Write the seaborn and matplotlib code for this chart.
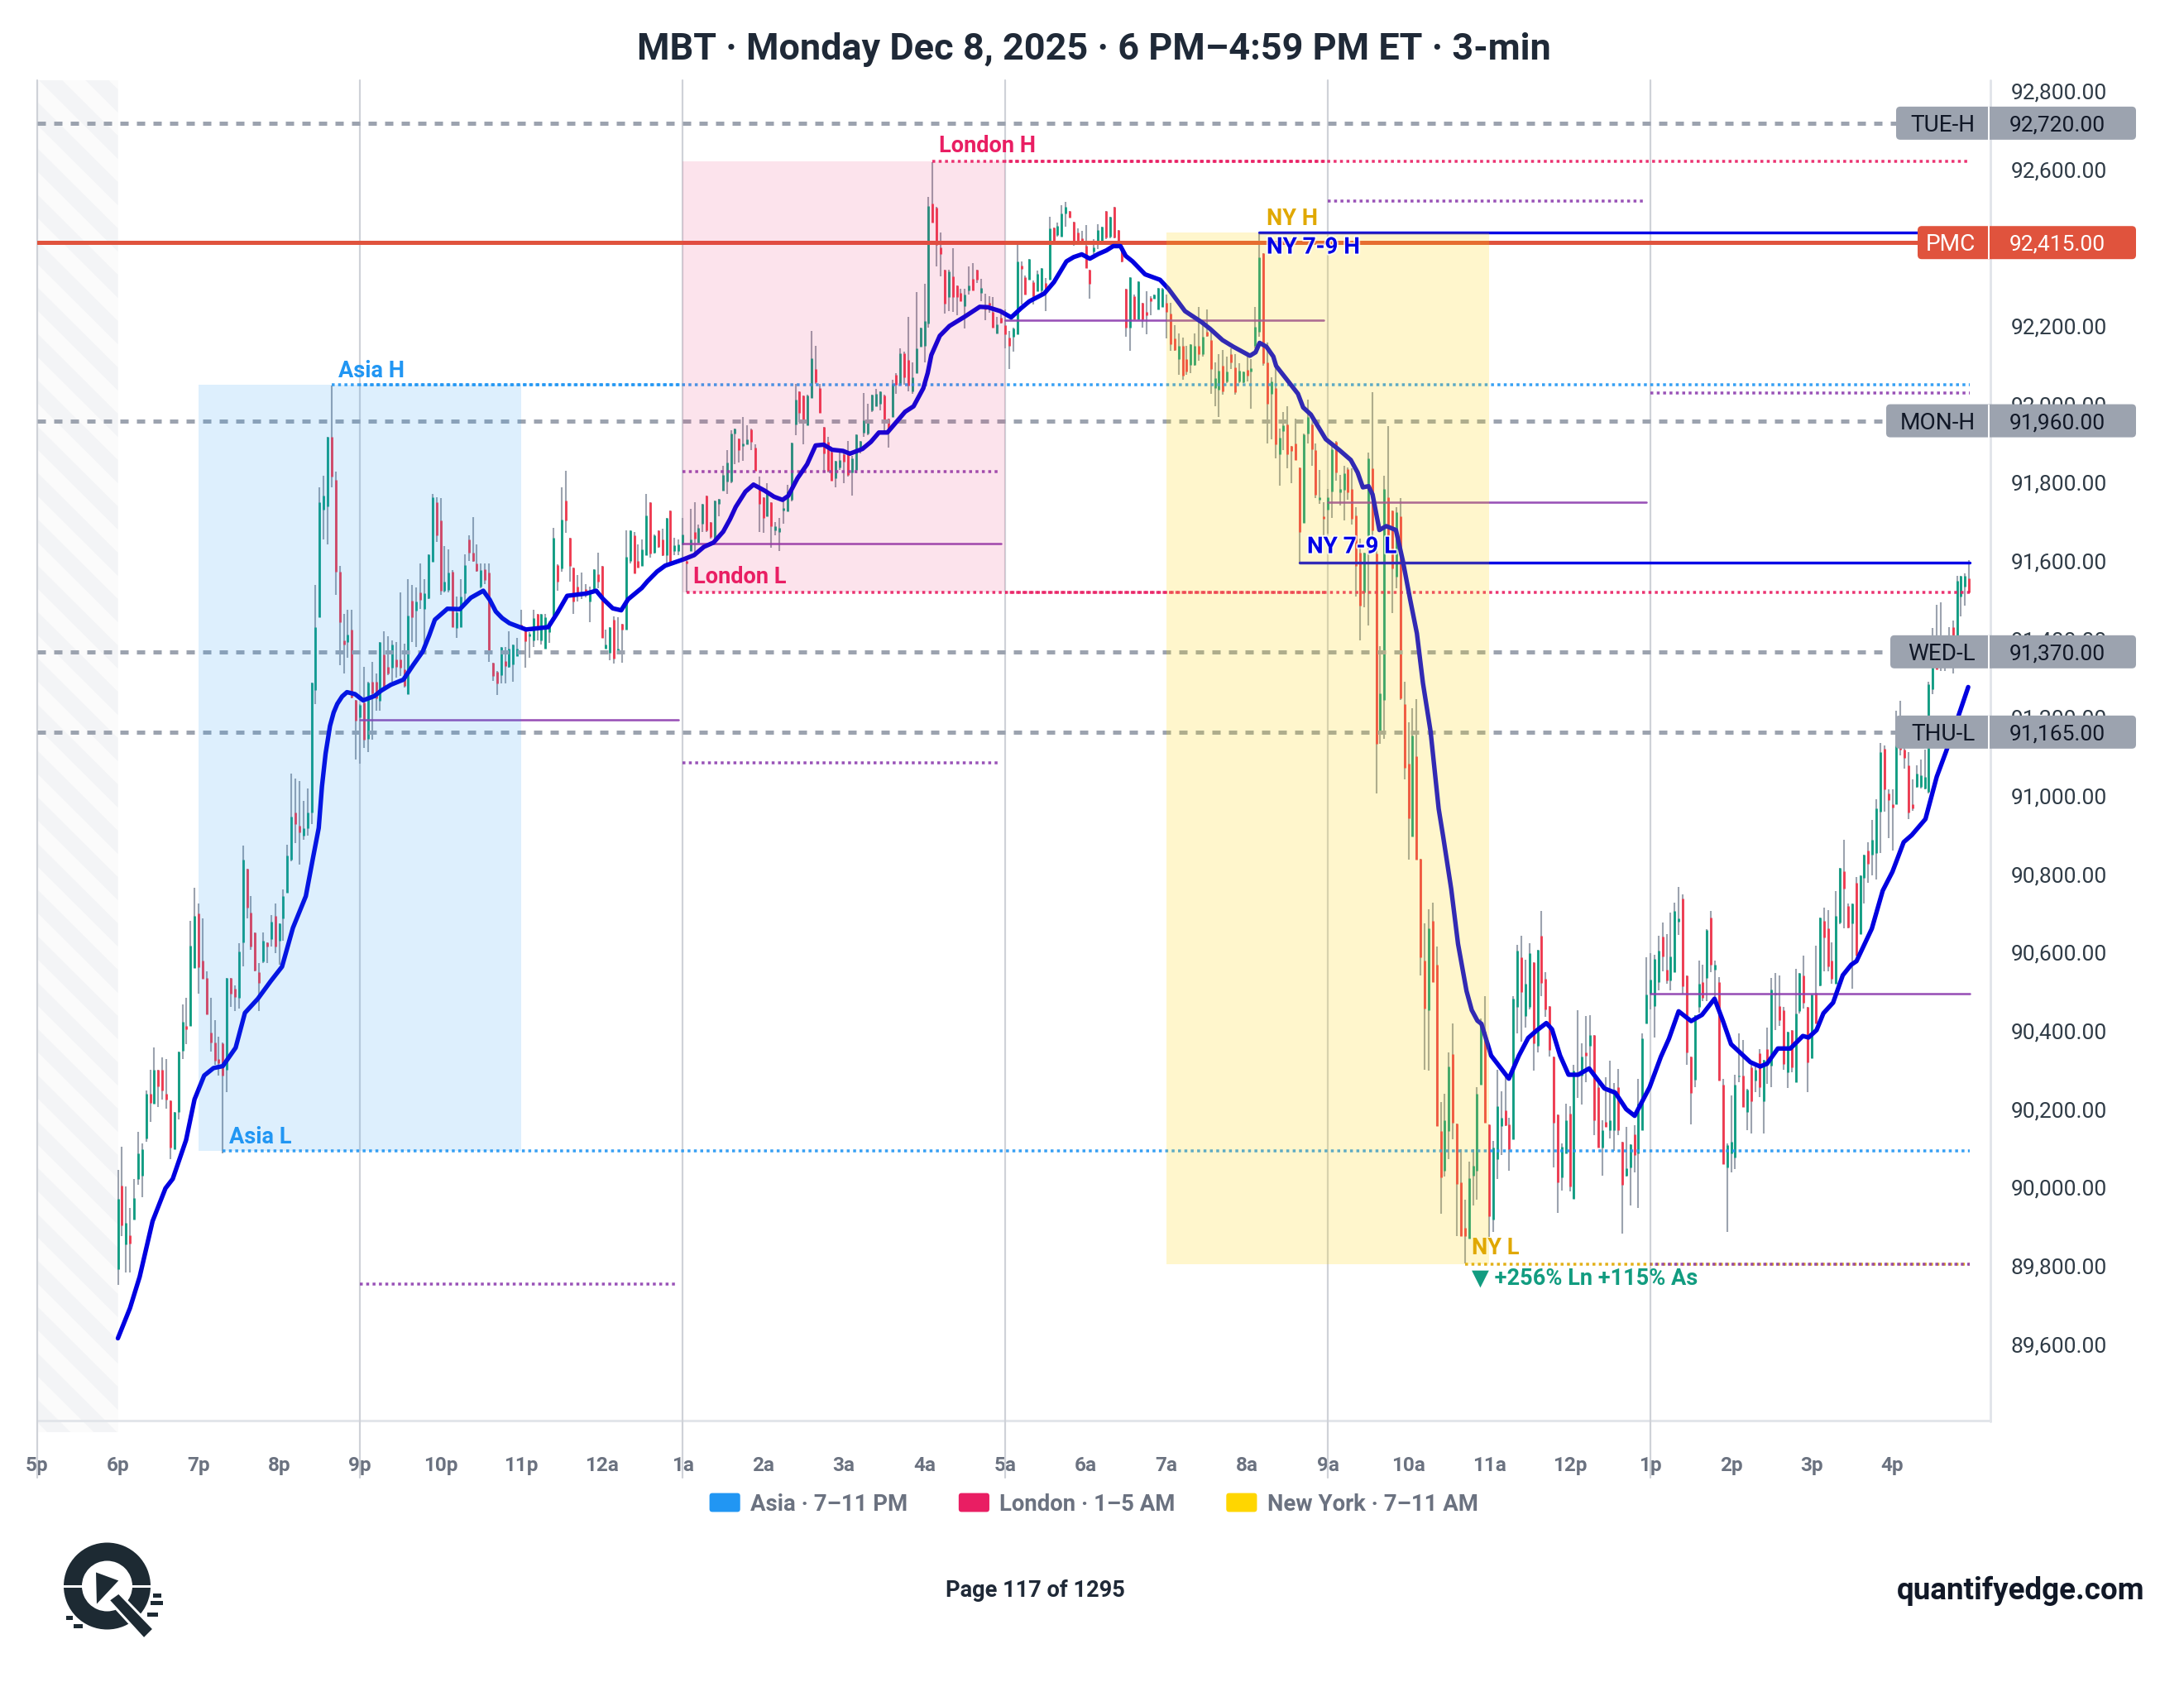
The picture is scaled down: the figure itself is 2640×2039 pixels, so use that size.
import matplotlib
matplotlib.use("Agg")
import matplotlib.patheffects as pe
import matplotlib.pyplot as plt
from matplotlib.collections import PolyCollection
from matplotlib.legend_handler import HandlerPatch
from matplotlib.patches import FancyBboxPatch, Polygon, Rectangle, Wedge
from matplotlib.ticker import FuncFormatter
from matplotlib.transforms import ScaledTranslation
import numpy as np
import seaborn as sns

W, H = 2640, 2040
PX = 0.72  # points per pixel at 100 dpi
LEFT = 45  # pixel column of 5 PM

sns.set_theme(style="white")
plt.rcParams["font.family"] = ["Roboto", "DejaVu Sans"]

# 3-minute bars, one row per trading hour, from 6 PM
bar_open = [
    89793,90007,89856,89880,89920,90024,90033,90128,90241,90217,90302,90302,90241,90224,90100,90194,90351,90415,90415,90562,
    90701,90582,90538,90397,90373,90330,90371,90302,90538,90510,90486,90628,90816,90705,90654,90552,90580,90628,90637,90696,
    90632,90689,90755,90840,90960,90925,90900,90920,90960,91272,91459,91733,91741,91920,91809,91575,91400,91395,91427,91248,
    91202,91241,91147,91294,91294,91244,91364,91332,91329,91350,91350,91325,91262,91501,91475,91522,91480,91506,91600,91751,
    91705,91526,91529,91575,91431,91434,91519,91657,91624,91596,91536,91581,91572,91343,91318,91311,91346,91332,91337,91360,
    91440,91431,91410,91399,91466,91400,91379,91420,91462,91591,91582,91757,91662,91586,91536,91522,91530,91498,91522,91568,
    91589,91378,91367,91452,91370,91441,91426,91603,91668,91601,91589,91617,91751,91624,91680,91656,91617,91730,91628,91628,
    91645,91603,91628,91677,91649,91698,91768,91701,91659,91747,91782,91804,91804,91927,91914,91895,91899,91937,91892,91786,
    91765,91717,91751,91680,91677,91730,91728,91758,91951,92036,92025,91948,92018,92092,92043,91944,91906,91881,91814,91840,
    91874,91874,91828,91835,91888,91930,91927,91987,91997,92004,92025,91966,91969,92078,92053,92132,92115,92036,92082,92149,
    92152,92208,92515,92504,92402,92346,92276,92328,92306,92286,92252,92293,92323,92346,92286,92251,92262,92237,92184,92223,
    92205,92172,92174,92181,92357,92327,92321,92314,92290,92293,92311,92321,92454,92434,92430,92490,92496,92469,92441,92427,
    92406,92346,92392,92416,92416,92496,92430,92506,92447,92395,92297,92198,92279,92219,92261,92237,92273,92271,92244,92251,
    92261,92233,92170,92117,92152,92117,92102,92103,92152,92131,92188,92166,92043,92040,92100,92061,92131,92097,92061,92059,
    92090,92086,92152,92188,92388,92110,92029,92043,91874,91934,91950,91895,91902,91841,91700,91928,91950,91886,91758,91716,
    91733,91779,91907,91778,91783,91837,91786,91719,91624,91522,91667,91839,91621,91166,91247,91764,91730,91561,91716,91237,
    91085,90899,91104,90841,90582,90455,90684,90572,90146,90044,90146,90343,90165,90016,89899,89871,90033,90044,90265,90399,
    90163,89921,90075,90160,90199,90163,90125,90463,90589,90441,90463,90577,90364,90644,90536,90466,90336,90188,90027,90089,
    90191,89973,90290,90287,90346,90364,90392,90258,90104,90170,90149,90149,90258,90119,90032,90054,90137,90089,90149,90420,
    90498,90466,90526,90642,90558,90530,90553,90680,90740,90544,90336,90278,90463,90526,90537,90691,90558,90526,90265,90054,
    90089,90079,90285,90287,90195,90308,90275,90345,90223,90356,90313,90495,90466,90455,90297,90404,90270,90453,90544,90463,
    90332,90500,90519,90684,90663,90582,90523,90679,90810,90720,90677,90781,90649,90792,90862,90851,90857,90961,91123,91008,
    90981,90981,91185,91120,91080,90981,91026,91026,91022,91013,91274,91380,91380,91340,91350,91433,91406,91511,91536,91557,
]
bar_close = [
    89972,89906,89911,89860,89975,90090,90100,90241,90218,90302,90260,90250,90227,90104,90194,90350,90425,90406,90620,90696,
    90564,90535,90444,90373,90326,90320,90288,90538,90498,90488,90604,90840,90717,90618,90557,90524,90632,90618,90680,90618,
    90677,90746,90850,90950,90930,90910,90920,90960,91292,91434,91751,91769,91918,91818,91574,91445,91388,91413,91253,91195,
    91234,91146,91292,91265,91251,91396,91276,91315,91389,91332,91329,91283,91462,91459,91498,91503,91519,91619,91765,91668,
    91526,91550,91572,91434,91470,91512,91591,91624,91603,91576,91579,91554,91371,91309,91290,91383,91334,91378,91389,91378,
    91431,91398,91417,91457,91427,91466,91459,91440,91662,91550,91707,91705,91589,91498,91519,91515,91520,91519,91581,91549,
    91405,91388,91433,91353,91378,91426,91612,91680,91571,91586,91631,91719,91621,91668,91638,91617,91712,91597,91642,91645,
    91670,91596,91656,91659,91687,91747,91680,91663,91756,91761,91821,91853,91927,91941,91885,91902,91913,91906,91832,91747,
    91712,91775,91691,91691,91687,91737,91779,91904,92015,91980,91955,92025,92120,92059,91980,91877,91832,91807,91858,91860,
    91856,91821,91863,91925,91909,91962,91962,92027,92029,92036,91962,91934,92054,92053,92132,92071,92050,92071,92145,92198,
    92215,92508,92466,92409,92385,92260,92342,92276,92276,92265,92283,92306,92293,92321,92300,92244,92254,92198,92207,92210,
    92181,92152,92195,92367,92348,92283,92374,92279,92335,92351,92297,92452,92413,92457,92490,92506,92478,92420,92416,92416,
    92350,92309,92402,92447,92456,92428,92480,92428,92413,92367,92198,92327,92219,92316,92219,92230,92265,92283,92300,92297,
    92238,92156,92140,92152,92075,92085,92156,92152,92131,92175,92177,92093,92068,92089,92036,92085,92109,92034,92088,92086,
    92075,92095,92201,92378,92107,92003,92060,91900,91916,91948,91874,91883,91860,91677,91926,91969,91888,91772,91765,91709,
    91765,91888,91828,91786,91827,91778,91709,91589,91487,91624,91865,91681,91135,91265,91786,91667,91582,91726,91251,91073,
    90945,91156,90839,90589,90459,90663,90526,90160,90027,90174,90311,90167,90012,89878,89877,90026,90058,90241,90424,90167,
    89928,90104,90209,90181,90161,90100,90484,90607,90501,90522,90600,90371,90609,90525,90456,90353,90168,90016,90107,90174,
    90005,90301,90294,90336,90339,90392,90173,90104,90149,90156,90174,90251,90149,90009,90051,90112,90086,90216,90382,90494,
    90533,90586,90607,90593,90530,90593,90709,90690,90515,90346,90244,90443,90522,90487,90660,90572,90572,90276,90061,90111,
    90118,90265,90288,90208,90251,90223,90302,90259,90329,90318,90507,90500,90429,90318,90399,90308,90447,90550,90474,90321,
    90494,90420,90692,90641,90566,90534,90695,90819,90765,90666,90727,90595,90800,90851,90828,90889,90970,91115,91018,90992,
    90972,91132,91120,91099,90959,90970,91058,91054,91051,91288,91347,91325,91340,91360,91380,91406,91552,91565,91563,91522,
]
bar_high = [
    90048,90107,90005,89949,90024,90145,90114,90250,90302,90359,90302,90335,90331,90224,90194,90350,90469,90486,90684,90767,
    90727,90689,90554,90486,90430,90387,90373,90538,90538,90519,90626,90875,90816,90746,90654,90576,90654,90628,90698,90727,
    90677,90764,90878,91060,91047,91040,90990,91020,91292,91540,91790,91820,91920,92050,91830,91589,91466,91478,91477,91248,
    91237,91332,91294,91345,91315,91396,91422,91410,91400,91396,91522,91390,91555,91540,91534,91596,91555,91619,91774,91765,
    91762,91640,91631,91579,91512,91555,91619,91667,91715,91645,91596,91596,91596,91343,91320,91383,91383,91422,91389,91406,
    91477,91434,91420,91478,91466,91466,91466,91448,91686,91593,91791,91832,91662,91586,91567,91572,91543,91536,91581,91624,
    91590,91426,91433,91461,91459,91441,91680,91680,91675,91645,91656,91774,91751,91670,91680,91684,91712,91730,91661,91656,
    91712,91610,91735,91751,91696,91747,91768,91701,91756,91761,91846,91886,91935,91941,91914,91969,91948,91941,91899,91818,
    91765,91800,91751,91701,91712,91758,91797,91904,92055,92036,92025,92027,92189,92151,92055,91944,91920,91886,91858,91879,
    91888,91909,91870,91925,91909,92030,92004,92027,92041,92036,92027,91966,92064,92082,92145,92137,92226,92110,92289,92198,
    92310,92531,92620,92506,92441,92346,92346,92400,92306,92297,92297,92355,92362,92346,92323,92285,92279,92276,92226,92244,
    92244,92189,92198,92409,92367,92330,92374,92318,92344,92351,92325,92480,92454,92466,92511,92520,92496,92469,92452,92445,
    92459,92346,92423,92461,92456,92496,92480,92506,92447,92395,92297,92327,92283,92316,92261,92290,92279,92283,92300,92300,
    92283,92261,92205,92184,92172,92152,92156,92184,92251,92216,92245,92188,92110,92131,92140,92124,92145,92131,92107,92086,
    92124,92117,92251,92437,92388,92159,92071,92096,91941,91982,91997,91895,91966,91841,91927,92015,91952,91902,91835,91751,
    91786,91895,91909,91821,91846,91841,91839,91740,91660,91624,91879,92033,91652,91385,91819,91947,91730,91740,91762,91293,
    91191,91226,91249,90841,90677,90712,90730,90617,90220,90241,90348,90420,90165,90100,89971,90068,90100,90258,90434,90491,
    90163,90121,90302,90248,90287,90181,90491,90621,90644,90584,90626,90577,90610,90709,90551,90466,90336,90188,90114,90216,
    90209,90315,90454,90371,90441,90443,90392,90280,90174,90283,90325,90269,90304,90119,90156,90112,90161,90280,90396,90589,
    90600,90596,90644,90679,90649,90705,90730,90770,90750,90544,90336,90443,90581,90572,90661,90709,90582,90540,90280,90114,
    90237,90290,90396,90378,90255,90315,90320,90356,90329,90410,90537,90550,90544,90463,90399,90404,90560,90550,90595,90463,
    90494,90620,90692,90717,90711,90627,90760,90819,90889,90727,90727,90795,90800,90851,90884,90940,90994,91137,91131,91018,
    91018,91220,91245,91153,91115,91045,91080,91094,91121,91293,91431,91489,91496,91380,91432,91449,91565,91565,91571,91604,
]
bar_low = [
    89754,89878,89784,89784,89920,90010,89977,90118,90170,90217,90208,90227,90203,90074,90100,90175,90331,90368,90415,90562,
    90498,90535,90444,90350,90316,90288,90090,90246,90463,90453,90458,90566,90690,90609,90554,90453,90576,90576,90618,90600,
    90571,90632,90755,90835,90882,90826,90890,90900,90930,91237,91459,91656,91645,91790,91515,91336,91315,91355,91251,91096,
    91084,91125,91114,91146,91220,91220,91272,91311,91294,91304,91308,91279,91262,91396,91383,91480,91389,91505,91600,91651,
    91515,91522,91522,91434,91405,91434,91494,91603,91600,91575,91533,91543,91344,91295,91260,91290,91290,91330,91294,91360,
    91431,91330,91355,91382,91399,91389,91379,91393,91457,91526,91574,91674,91550,91466,91498,91505,91510,91445,91520,91533,
    91405,91378,91348,91340,91364,91342,91426,91596,91571,91585,91589,91617,91610,91620,91635,91614,91596,91596,91617,91617,
    91606,91522,91628,91620,91649,91677,91677,91659,91656,91717,91782,91773,91800,91849,91853,91858,91899,91885,91832,91677,
    91673,91716,91635,91668,91628,91698,91728,91754,91923,91958,91899,91948,92018,92055,91980,91828,91828,91807,91790,91835,
    91800,91818,91768,91825,91877,91920,91923,91983,91997,91987,91934,91892,91969,92029,92053,92053,92036,92029,92082,92149,
    92110,92198,92466,92355,92328,92233,92240,92237,92230,92265,92195,92283,92293,92311,92265,92216,92235,92198,92184,92209,
    92145,92093,92137,92181,92258,92283,92321,92258,92290,92286,92240,92321,92413,92430,92430,92455,92478,92406,92413,92413,
    92350,92271,92385,92399,92413,92423,92427,92427,92406,92365,92175,92138,92219,92219,92198,92181,92230,92271,92244,92251,
    92170,92138,92138,92078,92064,92078,92082,92100,92114,92124,92174,92029,91998,91970,92026,92057,92093,92026,92057,92057,
    92061,91990,92145,92174,92100,91902,91913,91864,91795,91885,91839,91800,91860,91596,91700,91902,91846,91762,91747,91668,
    91672,91712,91807,91744,91705,91758,91695,91512,91399,91483,91438,91666,91008,91135,91147,91660,91469,91533,91248,91045,
    90839,90899,90839,90543,90302,90301,90526,90160,89935,90030,90075,90125,89877,89878,89808,89871,89956,89971,90265,90167,
    89875,89889,90023,90084,90160,90044,90125,90396,90375,90410,90456,90301,90346,90491,90438,90336,90054,89938,89994,90089,
    89991,89973,90230,90213,90272,90304,90135,90104,90033,90156,90128,90096,90135,89884,90030,89956,90040,89950,90149,90420,
    90456,90385,90505,90554,90522,90505,90551,90646,90498,90315,90163,90258,90449,90477,90477,90551,90477,90276,90061,89889,
    90040,90049,90270,90208,90149,90140,90246,90232,90140,90267,90259,90404,90415,90302,90257,90296,90270,90447,90458,90246,
    90332,90420,90517,90555,90555,90523,90523,90674,90663,90663,90509,90595,90649,90727,90781,90800,90789,90857,90961,90895,
    90862,90981,91105,91072,90943,90965,91024,91022,91018,91008,91261,91325,91320,91320,91330,91315,91406,91460,91487,91522,
]

# moving-average trace: bar position and price
ema_bar = [
    0,3,5.4,8.6,11.8,13.6,16.9,19,21.4,23.7,26,29.2,31.5,34.7,37.9,40.7,43.4,46.6,48.4,49.8,50.6,51.5,52.6,53.5,54.4,55.6,56.8,58.8,60.8,63.6,65.3,
    67.7,70.8,73.2,75.6,77.2,78.6,81.7,84.8,87.5,90.6,92.2,93.7,95.3,97.1,101.2,106.7,109,111.4,116.2,118.6,120.3,122.7,124.8,126.5,129.9,131.3,
    133.7,135.7,140.2,142.9,145.3,147.7,150.1,151.8,153.2,155.6,157.6,160.3,162.7,164.8,166.2,168.5,170.9,173,175,177.1,179.8,181.5,
    184.6,186.7,188.7,190.8,192.8,195.2,197.3,199.7,200.8,201.7,203.8,206.2,210,213.7,215.7,218.8,221.5,223.9,226,229.7,232.1,235.2,237,239,
    241,243.1,245.1,246.8,248.6,249.9,251.6,254.7,258.4,260.5,264.6,268.7,270.8,273.9,276.6,280.7,282.1,283.1,284.8,286.5,287.2,
    292.6,293.9,295.8,299.5,302.9,305.7,307.4,308.7,310.1,311.1,312.8,314.5,316.9,318.6,320.4,322.1,323.6,325.5,327.5,328.6,330.6,332.3,
    334.4,335.7,337.1,338.1,340.5,344.9,347.4,349.7,351.8,354.2,355.6,357.6,359.7,362.1,364.8,368.6,371.3,374,376.1,379.8,382.6,384.6,387,
    390.1,392.8,395.9,398,400,404.8,407.2,408.9,411.6,414.7,417.8,419.2,421.2,422.9,425.3,427.7,429.8,431.1,434.9,437.6,440,442.8,
    444.8,448.2,451,453.3,456.4,458.8,
]
ema_price = [
    89617,89694,89774,89916,90000,90024,90123,90227,90288,90307,90312,90359,90448,90484,90529,90566,90665,90746,90845,90920,91026,91110,91181,91215,91237,91256,91267,91262,91246,91257,91271,
    91286,91299,91336,91371,91412,91452,91480,91479,91508,91526,91503,91473,91456,91443,91427,91433,91470,91513,91519,91526,91505,91481,91476,91504,91533,91550,
    91575,91590,91606,91617,91638,91649,91677,91709,91740,91779,91797,91782,91766,91758,91768,91813,91849,91897,91899,91886,91883,91876,
    91888,91906,91930,91930,91954,91983,91997,92043,92082,92128,92177,92202,92226,92251,92250,92240,92224,92247,92265,92285,92314,92367,92378,92385,
    92374,92386,92395,92406,92406,92381,92367,92334,92320,92297,92240,92212,92195,92166,92149,92126,92135,92159,92149,92124,92100,
    92029,91994,91976,91913,91885,91860,91828,91790,91793,91772,91681,91691,91681,91603,91505,91417,91290,91166,90969,90899,90765,90624,
    90504,90455,90428,90420,90339,90280,90339,90384,90403,90422,90406,90339,90290,90290,90306,90255,90244,90202,90185,90258,90336,90382,90452,
    90427,90443,90484,90427,90368,90322,90311,90318,90357,90357,90389,90385,90404,90447,90474,90544,90571,90580,90663,90760,90808,90884,
    90902,90943,91051,91115,91207,91280,
]

tick_hours = list(range(0, 24))
tick_labels = ["5p", "6p", "7p", "8p", "9p", "10p", "11p", "12a", "1a", "2a", "3a", "4a",
               "5a", "6a", "7a", "8a", "9a", "10a", "11a", "12p", "1p", "2p", "3p", "4p"]
price_ticks = list(range(89600, 92801, 200))
session_grid_hours = [0, 4, 8, 12, 16, 20]

session_names = ["Asia · 7–11 PM", "London · 1–5 AM", "New York · 7–11 AM"]
session_colors = ["#2196f3", "#e91e63", "#ffd600"]
session_alphas = [0.15, 0.12, 0.20]
session_start = [2, 8, 14]
session_end = [6, 12, 18]
session_high = [92052, 92622, 92440]
session_low = [90095, 91522, 89806]

level_names = ["TUE-H", "MON-H", "WED-L", "THU-L"]
level_prices = [92720, 91960, 91370, 91165]
level_badge_left = [2292, 2280, 2285, 2291]
pmc_price = 92415
ny_window_high = 92440
ny_window_low = 91597
last_bar_hour = 23.96

# (start hour, end hour, price, colour, style)
dotted = (0, (1.0, 1.2))
shifted = (0.6, (1.0, 1.2))
purple = "#8e3fb0"
reference_segments = [
    (3.65, last_bar_hour, 92052, "#2196f3", dotted),
    (2.30, last_bar_hour, 90095, "#2196f3", dotted),
    (11.10, last_bar_hour, 92622, "#e91e63", dotted),
    (8.05, last_bar_hour, 91522, "#e91e63", dotted),
    (17.70, last_bar_hour, 89806, "#e0a800", dotted),
    (4, 8, 92052, "#2196f3", shifted),
    (12, 16, 92622, "#e91e63", shifted),
    (12, 16, 91522, "#e91e63", shifted),
    (20, last_bar_hour, 89806, purple, shifted),
    (4, 7.95, 91196, purple, "solid"),
    (8, 11.95, 91647, purple, "solid"),
    (12, 15.95, 92216, purple, "solid"),
    (16, 19.95, 91752, purple, "solid"),
    (20, last_bar_hour, 90498, purple, "solid"),
    (4, 7.95, 89755, purple, dotted),
    (8, 11.95, 91831, purple, dotted),
    (8, 11.95, 91087, purple, dotted),
    (16, 19.95, 92521, purple, dotted),
    (20, last_bar_hour, 92031, purple, dotted),
]


def to_fig(x0, y0, x1, y1):
    """Pixel box (y down) to a figure-fraction rectangle."""
    return [x0 / W, 1 - y1 / H, (x1 - x0) / W, (y1 - y0) / H]


fig = plt.figure(figsize=(W / 100, H / 100), dpi=100, facecolor="white")

backdrop = fig.add_axes([0, 0, 1, 1], zorder=0)
backdrop.set_xlim(0, W)
backdrop.set_ylim(H, 0)
backdrop.axis("off")

ax = fig.add_axes(to_fig(LEFT, 98, 2406, 1732), zorder=1, facecolor="none")
ax.set_xlim(0, (2406 - LEFT) / 97.5)
ax.set_ylim(92800 - (1732 - 112) / 0.4733, 92800 + (112 - 98) / 0.4733)

overlay = fig.add_axes([0, 0, 1, 1], zorder=2, facecolor="none")
overlay.set_xlim(0, W)
overlay.set_ylim(H, 0)
overlay.axis("off")

# pre-session hatch, 5 PM to 6 PM
band = Rectangle((LEFT, 98), 97.5, 1634, facecolor="#fbfbfb", edgecolor="none")
backdrop.add_patch(band)
stripes = [[(LEFT, y), (LEFT + 97.5, y + 97), (LEFT + 97.5, y + 125), (LEFT, y + 28)] for y in range(-100, 1800, 56)]
stripe_art = PolyCollection(stripes, facecolors="#f3f4f6", edgecolors="none")
backdrop.add_collection(stripe_art)
stripe_art.set_clip_path(band)

backdrop.plot([LEFT, 2406], [1718, 1718], color="#e2e5ea", lw=3 * PX)
backdrop.plot([2406, 2406], [98, 1719], color="#e2e5ea", lw=3 * PX)

for spine in ax.spines.values():
    spine.set_visible(False)

for hour in session_grid_hours:
    ax.plot([hour, hour], [1, -0.0337], transform=ax.get_xaxis_transform(), clip_on=False,
            color="#cfd2d8", lw=2.2 * PX, zorder=1)

# candles
hours = 1 + np.arange(len(bar_open)) * 0.05
o, c = np.array(bar_open), np.array(bar_close)
up = c >= o
ax.vlines(hours, bar_low, bar_high, color="#9ca3af", lw=2.1 * PX, zorder=1.6)
ax.vlines(hours[up], o[up], c[up], color="#0f9d82", lw=2.8 * PX, zorder=1.7)
ax.vlines(hours[~up], o[~up], c[~up], color="#f0394f", lw=2.8 * PX, zorder=1.7)

# reference levels
for start, end, price, color, style in reference_segments:
    solid = style == "solid"
    ax.plot([start, end], [price, price], color=color, ls=style, lw=(2.6 if solid else 3.5) * PX,
            alpha=0.9, zorder=1.9, dash_capstyle="butt")

for price in level_prices:
    ax.plot([0, 23.4], [price, price], color="#9ca3af", ls=(0, (2.0, 2.0)), lw=5 * PX, zorder=1.8)
ax.plot([0, 23.4], [pmc_price, pmc_price], color="#e0533d", lw=5 * PX, zorder=1.8)
ax.plot([15.15, 23.4], [ny_window_high, ny_window_high], color="#0000e6", lw=3.4 * PX, zorder=2.0)
ax.plot([15.65, last_bar_hour], [ny_window_low, ny_window_low], color="#0000e6", lw=3.4 * PX, zorder=2.0)

# moving average
sns.lineplot(x=1 + np.array(ema_bar) * 0.05, y=ema_price, ax=ax, color="#0000e0", lw=5.4 * PX,
             estimator=None, sort=False, zorder=2.2, solid_joinstyle="round")

# session windows sit over the price action
for i, name in enumerate(session_names):
    ax.add_patch(Rectangle((session_start[i], session_low[i]), session_end[i] - session_start[i],
                           session_high[i] - session_low[i], facecolor=session_colors[i],
                           alpha=session_alphas[i], edgecolor="none", zorder=3))

# axes ticks
ax.yaxis.tick_right()
ax.set_yticks(price_ticks)
ax.yaxis.set_major_formatter(FuncFormatter(lambda v, _: f"{v:,.2f}"))
ax.tick_params(axis="y", length=0, pad=25 * PX, labelsize=19, labelcolor="#2f3b46")
lift = ScaledTranslation(0, 2 / 100, fig.dpi_scale_trans)
for label in ax.get_yticklabels():
    label.set_transform(label.get_transform() + lift)
ax.set_xticks(tick_hours, tick_labels)
ax.tick_params(axis="x", length=18 * PX, width=2 * PX, color="#a8adb6", pad=10 * PX,
               labelsize=17.5, labelcolor="#6b7280")
for label in ax.get_xticklabels():
    label.set_fontweight("bold")
ax.set_xlabel("")
ax.set_ylabel("")


def price_y(price):
    return H - ax.transData.transform((0, price))[1]


def badge(name, price, left, fill, ink):
    y = price_y(price)
    overlay.add_patch(FancyBboxPatch((left, y - 20), 2582 - left, 40, boxstyle="round,pad=0,rounding_size=5",
                                     facecolor=fill, edgecolor="none", zorder=3))
    overlay.add_patch(Rectangle((2402.5, y - 20), 2.5, 40, facecolor="white", edgecolor="none", zorder=3.1))
    overlay.text(2388, y + 1.5, name, ha="right", va="center", fontsize=20.2, color=ink, zorder=4)
    overlay.text(2429, y + 1.5, f"{price:,.2f}", ha="left", va="center", fontsize=19, color=ink, zorder=4)


for name, price, left in zip(level_names, level_prices, level_badge_left):
    badge(name, price, left, "#9ca3af", "#111827")
badge("PMC", pmc_price, 2318, "#e0533d", "white")

# session annotations
annotations = [
    ("Asia H", 409, 448, "#2196f3"),
    ("Asia L", 277, 1375, "#2196f3"),
    ("London H", 1135, 177, "#e91e63"),
    ("London L", 838, 698, "#e91e63"),
    ("NY H", 1531, 265, "#e0a800"),
    ("NY L", 1779, 1509, "#e0a800"),
    ("▼ +256% Ln +115% As", 1779, 1545, "#129c80"),
]
for text, x, y, color in annotations:
    overlay.text(x, y, text, ha="left", va="center", fontsize=19.5, fontweight="bold", color=color, zorder=4)

for text, x, y in [("NY 7-9 H", 1531, 300), ("NY 7-9 L", 1580, 662)]:
    overlay.text(x, y, text, ha="left", va="center", fontsize=20, fontweight="bold", color="#0000e6", zorder=4,
                 path_effects=[pe.withStroke(linewidth=4 * PX, foreground="white", alpha=0.75)])


# legend with rounded swatches
def rounded_swatch(legend, orig_handle, xdescent, ydescent, width, height, fontsize):
    return FancyBboxPatch((-xdescent, -ydescent), width, height, boxstyle="round,pad=0,rounding_size=2.5")


handles = [Rectangle((0, 0), 1, 1, facecolor=col, edgecolor="none") for col in session_colors]
legend = fig.legend(handles, session_names, loc="center", bbox_to_anchor=(1322 / W, 1 - 1819 / H), ncol=3, frameon=False,
                    labelcolor="#6b7280", handlelength=1.35, handleheight=0.9, handletextpad=0.44,
                    columnspacing=2.25, prop={"weight": "bold", "size": 19.8},
                    handler_map={Rectangle: HandlerPatch(patch_func=rounded_swatch)})

# footer and title
fig.text(1322 / W, 1 - 60 / H, "MBT · Monday Dec 8, 2025 · 6 PM–4:59 PM ET · 3-min", ha="center", va="center",
         fontsize=32.4, fontweight="bold", color="#1f2937")
fig.text(1251 / W, 1 - 1923 / H, "Page 117 of 1295", ha="center", va="center", fontsize=19.6, fontweight="bold",
         color="#1f2937")
fig.text(2592 / W, 1 - 1923 / H, "quantifyedge.com", ha="right", va="center", fontsize=26.5, fontweight="bold",
         color="#111827")

# wordmark glyph
ink = "#1d2a33"
overlay.add_patch(Wedge((129.5, 1918), 52.5, 0, 360, width=22, facecolor=ink, edgecolor="none", zorder=3))
overlay.add_patch(Rectangle((74, 1916.5), 112, 3.5, facecolor="white", edgecolor="none", zorder=3.1))
overlay.add_patch(Polygon([(131, 1935), (143.5, 1926), (186, 1970), (174, 1982)], facecolor=ink, edgecolor="white",
                          lw=3 * PX, zorder=3.2))
overlay.add_patch(Polygon([(115, 1900), (145, 1911), (116, 1942)], facecolor=ink, edgecolor="white", lw=2 * PX, zorder=3.2))
for x0, x1, y0 in [(185, 195, 1929), (182, 197, 1938), (178, 191, 1952), (80, 88, 1956), (89, 100, 1966)]:
    overlay.add_patch(Rectangle((x0, y0 - 2.5), x1 - x0, 5, facecolor=ink, edgecolor="none", zorder=3.2))

fig.savefig("out.png", dpi=100, facecolor="white")
